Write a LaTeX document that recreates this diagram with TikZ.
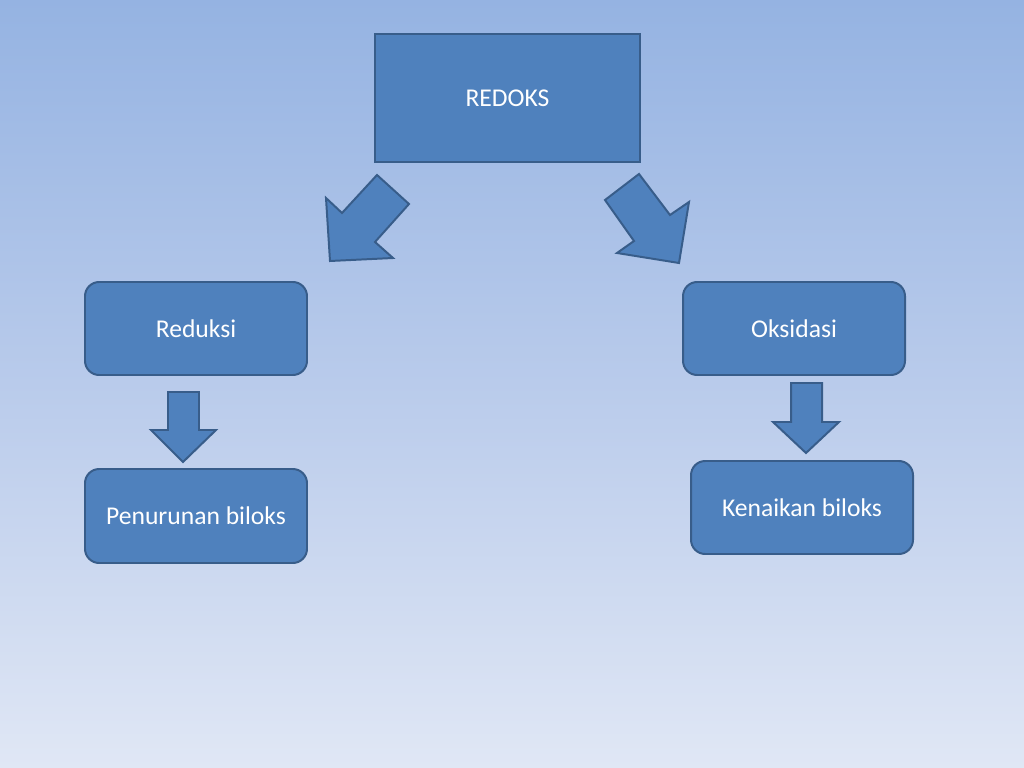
\documentclass[tikz,border=0pt]{standalone}
\usepackage{fontspec}
\setmainfont{Carlito}
\definecolor{boxfill}{HTML}{4F81BD}
\definecolor{boxline}{HTML}{385D8A}
\definecolor{bgtop}{HTML}{95B3E2}
\definecolor{bgmid}{HTML}{B9CBEB}
\definecolor{bgbot}{HTML}{E0E7F5}
\tikzset{
  box/.style={draw=boxline, fill=boxfill, line width=1.4pt, text=white, font=\fontsize{18}{22}\selectfont, inner sep=0pt},
  rbox/.style={box, rounded corners=10pt},
  blockarrow/.style={draw=boxline, fill=boxfill, line width=1.4pt, line join=miter}
}
\begin{document}
\begin{tikzpicture}[x=0.703125pt, y=-0.703125pt]
\useasboundingbox (0,0) rectangle (1024,768);
\shade[top color=bgtop, bottom color=bgmid] (0,0) rectangle (1024,384);
\shade[top color=bgmid, bottom color=bgbot] (0,384) rectangle (1024,768);
% boxes
\node[box, minimum width=265*0.703125pt, minimum height=128*0.703125pt] (redoks) at (507.5,98) {REDOKS};
\node[rbox, minimum width=222*0.703125pt, minimum height=93*0.703125pt] (reduksi) at (196,328.5) {Reduksi};
\node[rbox, minimum width=222*0.703125pt, minimum height=93*0.703125pt] (oksidasi) at (794,328.5) {Oksidasi};
\node[rbox, minimum width=222*0.703125pt, minimum height=94*0.703125pt] (penurunan) at (196,516) {Penurunan biloks};
\node[rbox, minimum width=222*0.703125pt, minimum height=93*0.703125pt] (kenaikan) at (802,507.5) {Kenaikan biloks};
% block arrows
\draw[blockarrow] (377,175) -- (409,204) -- (375,242) -- (393,258) -- (330,261) -- (326,198) -- (342,213) -- cycle;
\draw[blockarrow] (639,174) -- (670,215) -- (689,202) -- (679,263) -- (617,253) -- (634,241) -- (605,200) -- cycle;
\draw[blockarrow] (168,392) -- (199,392) -- (199,430) -- (216,430) -- (183,462) -- (151,430) -- (168,430) -- cycle;
\draw[blockarrow] (791,383) -- (822,383) -- (822,422) -- (839,422) -- (806,453) -- (773,422) -- (791,422) -- cycle;
\end{tikzpicture}
\end{document}
